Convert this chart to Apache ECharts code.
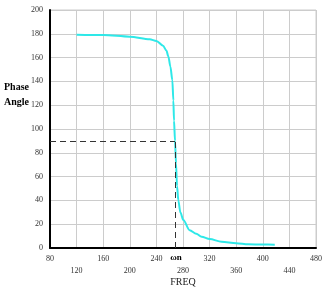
<!DOCTYPE html>
<html>
<head>
<meta charset="utf-8">
<script src="https://cdn.jsdelivr.net/npm/echarts@6/dist/echarts.min.js"></script>
<style>html,body{margin:0;padding:0;background:#fff}#chart{width:329px;height:288px}</style>
</head>
<body>
<div id="chart"></div>
<script>
// phase response near resonance
var freq = [120, 160, 200, 230, 240, 250, 255, 258, 261, 264, 265.5, 266.5, 268, 269.5, 271, 273, 276, 280.5, 290, 300, 308, 320, 338, 360, 378, 400, 418];
var phase = [179.3, 179, 177.6, 175.4, 174, 170, 166, 161, 152.5, 141, 124, 107, 90, 71, 52, 40, 30, 23.5, 15, 12, 9.5, 7.5, 5.3, 4, 3.1, 2.9, 2.8];
var wn = 268;
var wnPhase = 90;

var serif = '"Liberation Serif", "DejaVu Serif", serif';
var chart = echarts.init(document.getElementById('chart'));

var pts = freq.map(function (f, i) { return [f, phase[i]]; });

chart.setOption({
  backgroundColor: '#fff',
  animation: false,
  grid: { left: 50, right: 13, top: 10, bottom: 40, show: true, borderColor: '#cccccc', borderWidth: 1, outerBoundsMode: 'none', containLabel: false },
  xAxis: {
    type: 'value', min: 80, max: 480, interval: 40,
    name: 'FREQ', nameLocation: 'middle', nameGap: 29, nameMoveOverlap: false,
    nameTextStyle: { fontFamily: serif, fontSize: 10, color: '#222' },
    axisLine: { lineStyle: { color: '#000', width: 2 } },
    axisTick: { show: false },
    axisLabel: {
      fontFamily: serif, fontSize: 8, color: '#333', margin: 5, lineHeight: 12,
      formatter: function (v) { return ((v - 80) / 40) % 2 ? '\n' + v : '' + v; }
    },
    splitLine: { lineStyle: { color: '#cccccc', width: 1 } }
  },
  yAxis: {
    type: 'value', min: 0, max: 200, interval: 20,
    axisLine: { show: true, lineStyle: { color: '#000', width: 2 } },
    axisTick: { show: false },
    axisLabel: { fontFamily: serif, fontSize: 8, color: '#333', margin: 7 },
    splitLine: { lineStyle: { color: '#cccccc', width: 1 } }
  },
  graphic: [
    { type: 'text', left: 4, top: 80, style: { text: 'Phase\nAngle', font: 'bold 10px ' + serif, fill: '#000', lineHeight: 15 } }
  ],
  series: [{
    type: 'line',
    data: pts,
    showSymbol: false,
    smooth: 0.3,
    smoothMonotone: 'x',
    lineStyle: { color: '#2ee8e8', width: 2 },
    markLine: {
      silent: true,
      symbol: 'none',
      lineStyle: { color: '#333', type: [6, 4], width: 1 },
      data: [
        [{ coord: [80, wnPhase] }, { coord: [wn, wnPhase] }],
        [{ coord: [wn, 0], label: { show: true, position: 'start', formatter: 'ωn', fontFamily: serif, fontWeight: 'bold', fontSize: 9, color: '#000', distance: 2, offset: [1, 3] } }, { coord: [wn, wnPhase] }]
      ],
      label: { show: false }
    }
  }]
});
</script>
</body>
</html>
